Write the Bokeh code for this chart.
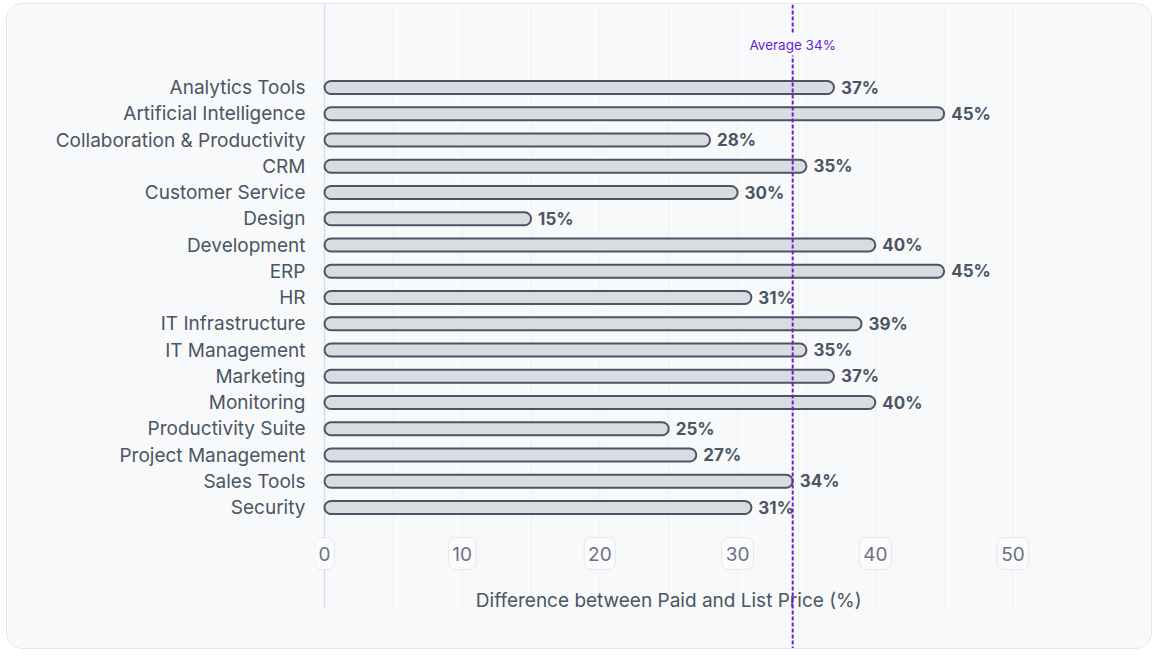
from bokeh.plotting import figure
from bokeh.models import (ColumnDataSource, Range1d, LinearAxis, FixedTicker, Span, Label)
from bokeh.core.properties import value
from bokeh.embed import file_html
from bokeh.resources import INLINE

# ---------------- data ----------------
categories = ["Analytics Tools", "Artificial Intelligence", "Collaboration & Productivity", "CRM",
              "Customer Service", "Design", "Development", "ERP", "HR", "IT Infrastructure",
              "IT Management", "Marketing", "Monitoring", "Productivity Suite",
              "Project Management", "Sales Tools", "Security"]
values = [37, 45, 28, 35, 30, 15, 40, 45, 31, 39, 35, 37, 40, 25, 27, 34, 31]
average = 34
x_ticks = [0, 10, 20, 30, 40, 50]
x_grid = [0, 5, 10, 15, 20, 25, 30, 35, 40, 45, 50]
x_title = "Difference between Paid and List Price (%)"

# ---------------- layout constants ----------------
FONT = "Inter"
BG = "#f8f9fb"
W, H = 1146, 646
ROW = 26.25           # px per category row
Y_FIRST = 83.0        # canvas px of first row centre
PX_PER_UNIT = 13.77
LEFT = 307            # frame left in canvas px
X0 = 317              # canvas px of value 0

idx = list(range(len(categories)))
y_top = (0 - Y_FIRST) / ROW
y_bot = (H - Y_FIRST) / ROW
x_start = (LEFT - X0) / PX_PER_UNIT
x_end = (W - X0) / PX_PER_UNIT

def row_at(px):
    return (px - Y_FIRST) / ROW

p = figure(width=W, height=H, output_backend="svg", toolbar_location=None,
           x_range=Range1d(x_start, x_end), y_range=Range1d(y_bot, y_top),
           x_axis_location=None, y_axis_location=None,
           min_border_left=LEFT, min_border_right=0, min_border_top=0, min_border_bottom=0)
p.background_fill_color = BG
p.border_fill_color = BG
p.outline_line_color = None
p.grid.visible = False
p.styles = {"border": "1px solid #e2e5ea", "border-radius": "16px", "overflow": "hidden",
            "margin-left": "6px", "margin-top": "3px"}

# y axis with category labels
yax = LinearAxis(ticker=FixedTicker(ticks=idx),
                 major_label_overrides={i: c for i, c in zip(idx, categories)})
yax.axis_line_color = None
yax.major_tick_line_color = None
yax.minor_tick_line_color = None
yax.major_label_standoff = 3
yax.major_label_text_font = FONT
yax.major_label_text_font_size = "19px"
yax.major_label_text_color = "#4b5563"
p.add_layout(yax, "left")

# grid lines (stop just below axis title)
g_src = ColumnDataSource(dict(x=x_grid, y0=[y_top] * len(x_grid), y1=[row_at(603)] * len(x_grid)))
p.segment(x0="x", x1="x", y0="y0", y1="y1", source=g_src,
          line_color="#e4e6ec", line_width=1, line_dash="1 1")
p.segment(x0=[x_grid[0]], x1=[x_grid[0]], y0=[y_top], y1=[row_at(603)],
          line_color="#d5d8ea", line_width=1.2)

# bars
src = ColumnDataSource(dict(y=idx, v=values, lab=[f"{v}%" for v in values]))
p.hbar(y="y", left=0, right="v", height=0.5, source=src,
       fill_color="#d9dce1", line_color="#4b5563", line_width=2, border_radius=7)
p.text(x="v", y="y", text="lab", source=src, x_offset=7,
       text_font=value(FONT), text_font_size="17px", text_font_style="bold",
       text_color="#4b5563", text_baseline="middle", text_align="left")

# x tick labels in rounded boxes
t_src = ColumnDataSource(dict(x=x_ticks, y=[row_at(549)] * len(x_ticks),
                              t=[str(t) for t in x_ticks]))
p.text(x="x", y="y", text="t", source=t_src,
       text_font=value(FONT), text_font_size="19px", text_color="#6b7280",
       text_align="center", text_baseline="middle",
       background_fill_color="#fbfbfd", border_line_color="#e5e7eb", border_line_width=1,
       padding=[4, 9], border_radius=7)

# axis title
p.text(x=[(x_ticks[0] + x_ticks[-1]) / 2], y=[row_at(596)], text=[x_title],
       text_font=value(FONT), text_font_size="19px", text_color="#4b5563",
       text_align="center", text_baseline="middle")

# average line + label
p.add_layout(Span(location=average, dimension="height", line_color="#6a1fd6",
                  line_width=2, line_dash="4 2"))
p.add_layout(Label(x=average, y=row_at(40), text=f"Average {average}%",
                   text_font=FONT, text_font_size="13.5px", text_color="#6a1fd6",
                   text_align="center", text_baseline="middle",
                   background_fill_color=BG, padding=3))

open("out.html", "w").write(file_html(p, INLINE))
